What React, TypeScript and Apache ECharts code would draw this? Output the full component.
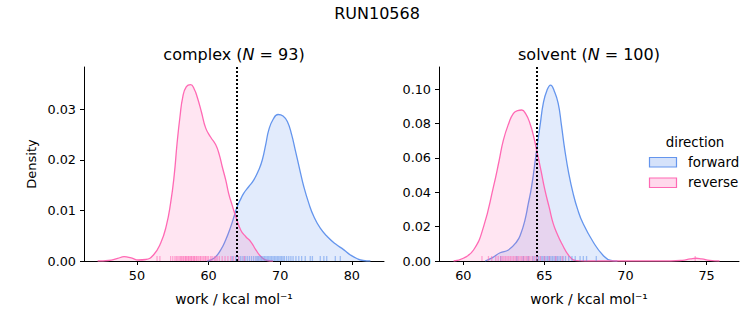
import React, { useEffect, useRef } from "react";
import * as echarts from "echarts";

// ---- data ----
const complexReverseKde: [number, number][] = [
  [44.5, 0], [46, 0.0001], [47.3, 0.0005], [48.2, 0.00085], [49.2, 0.0006], [50.2, 0.0002],
  [51.2, 0.0003], [52.3, 0.0012], [53.3, 0.0035], [54.1, 0.007], [54.7, 0.0115], [55.2, 0.017],
  [55.6, 0.0233], [56.0, 0.0285], [56.4, 0.0325], [56.9, 0.0345], [57.5, 0.0349], [58.0, 0.034],
  [58.4, 0.0325], [59.0, 0.0295], [59.6, 0.0263], [60.3, 0.0245], [61.0, 0.023], [61.5, 0.021],
  [61.9, 0.0187], [62.4, 0.016], [62.8, 0.0134], [63.3, 0.011], [63.8, 0.0088], [64.5, 0.0061],
  [65.2, 0.0048], [65.9, 0.0038], [66.6, 0.0022], [67.3, 0.0009], [68.2, 0.0001], [69, 0],
];
const complexForwardKde: [number, number][] = [
  [59.8, 0], [60.8, 0.0006], [61.7, 0.0022], [62.4, 0.0042], [63.1, 0.0068], [63.6, 0.009],
  [64.0, 0.0108], [64.5, 0.0123], [64.9, 0.0134], [65.6, 0.0147], [66.3, 0.016], [67.0, 0.018],
  [67.5, 0.02], [68.0, 0.0232], [68.4, 0.0259], [69.0, 0.028], [69.7, 0.029], [70.4, 0.0287],
  [71.0, 0.0276], [71.6, 0.025], [72.1, 0.022], [72.7, 0.0183], [73.3, 0.0147], [74.0, 0.0114],
  [74.7, 0.0088], [75.6, 0.0065], [76.6, 0.0048], [77.7, 0.0034], [78.9, 0.0022], [79.8, 0.0012],
  [80.7, 0.0005], [81.6, 0.0001], [82.6, 0],
];
const solventForwardKde: [number, number][] = [
  [61.35, 0], [61.8, 0.002], [62.27, 0.0048], [62.78, 0.0064], [63.29, 0.0112], [63.55, 0.016],
  [63.8, 0.0238], [64.0, 0.033], [64.21, 0.0432], [64.52, 0.0645], [64.75, 0.08], [64.93, 0.0917],
  [65.15, 0.099], [65.38, 0.1023], [65.6, 0.099], [65.85, 0.0917], [66.05, 0.079], [66.26, 0.0645],
  [66.5, 0.051], [66.77, 0.0393], [67.05, 0.03], [67.38, 0.0219], [68.0, 0.0112], [68.6, 0.0035],
  [69.1, 0.0003], [69.5, 0],
];
const solventReverseKde: [number, number][] = [
  [59.4, 0], [60.0, 0.0016], [60.63, 0.0064], [61.25, 0.02], [61.86, 0.0432], [62.2, 0.058],
  [62.47, 0.0703], [62.8, 0.08], [63.09, 0.0859], [63.35, 0.0875], [63.6, 0.0878], [63.85, 0.0855],
  [64.11, 0.08], [64.32, 0.073], [64.52, 0.0645], [64.78, 0.053], [65.03, 0.0413], [65.3, 0.031],
  [65.54, 0.0219], [65.8, 0.0155], [66.06, 0.0103], [66.56, 0.0025], [66.98, 0.0002], [67.5, 0],
  [72.8, 0], [73.5, 0.0004], [74.0, 0.0012], [74.34, 0.0016], [74.7, 0.0012], [75.2, 0.0004], [75.8, 0],
];

const complexReverseRug = [
  52.8, 53.2, 54.7, 55.0, 55.3, 55.5, 55.7, 55.9, 56.1, 56.2, 56.4, 56.5, 56.7, 56.8, 56.9, 57.1,
  57.2, 57.3, 57.5, 57.6, 57.7, 57.9, 58.0, 58.1, 58.3, 58.4, 58.6, 58.8, 58.9, 59.1, 59.3, 59.5,
  59.6, 59.8, 60.0, 60.3, 60.5, 60.8, 61.0, 61.2, 61.5, 61.9, 62.3, 62.7, 63.1, 63.5, 64.2, 65.0,
];
const complexForwardRug = [
  63.3, 63.8, 64.2, 64.5, 64.8, 65.1, 65.4, 65.7, 66.0, 66.3, 66.6, 66.8, 67.0, 67.2, 67.4, 67.6,
  67.8, 68.0, 68.2, 68.4, 68.6, 68.8, 69.0, 69.2, 69.4, 69.6, 69.8, 70.0, 70.2, 70.4, 70.6, 70.9,
  71.2, 71.5, 71.8, 72.2, 72.6, 73.0, 73.5, 74.2, 74.5, 75.6, 76.1, 76.5, 77.7, 78.4,
];
const solventReverseRug = [
  61.15, 61.55, 61.75, 62.0, 62.15, 62.3, 62.4, 62.5, 62.6, 62.7, 62.8, 62.9, 63.0, 63.1, 63.2,
  63.3, 63.4, 63.5, 63.6, 63.7, 63.8, 63.9, 64.0, 64.1, 64.25, 64.4, 64.55, 64.75, 65.0, 65.3,
  65.7, 66.1, 74.3,
];
const solventForwardRug = [
  62.3, 63.3, 63.7, 64.0, 64.3, 64.5, 64.65, 64.8, 64.9, 65.0, 65.1, 65.2, 65.3, 65.4, 65.5, 65.6,
  65.7, 65.8, 65.9, 66.0, 66.15, 66.3, 66.5, 66.7, 66.9, 67.2, 67.4, 67.6, 68.2,
];

const complexMeanLine = 64.0;
const solventMeanLine = 64.5;

const complexXTicks = [50, 60, 70, 80];
const complexYTicks = [0, 0.01, 0.02, 0.03];
const solventXTicks = [60, 65, 70, 75];
const solventYTicks = [0, 0.02, 0.04, 0.06, 0.08, 0.1];

const FONT = "DejaVu Sans";
const BLUE = "#6495ED";
const PINK = "#FF69B4";
const BLUE_FILL = "rgba(100,149,237,0.27)";
const PINK_FILL = "rgba(255,105,180,0.25)";

function makeXAxis(gridIndex: number, min: number, max: number, ticks: number[]) {
  return {
    type: "value", gridIndex, min, max,
    axisLine: { show: true, onZero: false, lineStyle: { color: "#000", width: 1 } },
    axisTick: { show: true, length: 4, customValues: ticks, lineStyle: { color: "#000", width: 1 } },
    axisLabel: { customValues: ticks, color: "#000", fontSize: 12.8, fontFamily: FONT, margin: 8 },
    splitLine: { show: false },
  };
}
function makeYAxis(gridIndex: number, max: number, ticks: number[]) {
  return {
    type: "value", gridIndex, min: 0, max,
    axisLine: { show: true, lineStyle: { color: "#000", width: 1 } },
    axisTick: { show: true, length: 4, customValues: ticks, lineStyle: { color: "#000", width: 1 } },
    axisLabel: {
      customValues: ticks, color: "#000", fontSize: 12.8, fontFamily: FONT, margin: 8,
      formatter: (v: number) => v.toFixed(2),
    },
    splitLine: { show: false },
  };
}
function kdeSeries(name: string, idx: number, data: [number, number][], color: string, fill: string, z: number) {
  return {
    name, type: "line", xAxisIndex: idx, yAxisIndex: idx, data,
    smooth: 0.5, showSymbol: false, symbol: "none",
    lineStyle: { color, width: 1.3 }, areaStyle: { color: fill, origin: "start" },
    itemStyle: { color }, z, silent: true,
  };
}
function rugSeries(name: string, idx: number, vals: number[], color: string) {
  return {
    name, type: "scatter", xAxisIndex: idx, yAxisIndex: idx,
    data: vals.map((v) => [v, 0]),
    symbol: "rect", symbolSize: [1.3, 5], symbolOffset: [0, -2.5], clip: false,
    itemStyle: { color, opacity: 0.55 }, z: 5, silent: true,
  };
}
function vline(idx: number, x: number) {
  return {
    type: "line", xAxisIndex: idx, yAxisIndex: idx, data: [], z: 10, silent: true,
    markLine: {
      silent: true, symbol: ["none", "none"], label: { show: false },
      lineStyle: { color: "#000", type: [2, 2], width: 2 },
      data: [{ xAxis: x }],
    },
  };
}

export default function App() {
  const ref = useRef<HTMLDivElement>(null);
  useEffect(() => {
    if (!ref.current) return;
    const chart = echarts.init(ref.current, undefined, { renderer: "svg" });
    chart.setOption({
      animation: false,
      backgroundColor: "#fff",
      grid: [
        { left: 84, top: 67, width: 300, height: 194 },
        { left: 439, top: 67, width: 300, height: 194 },
      ],
      xAxis: [makeXAxis(0, 42.6, 84.5, complexXTicks), makeXAxis(1, 58.5, 77.0, solventXTicks)],
      yAxis: [makeYAxis(0, 0.0384, complexYTicks), makeYAxis(1, 0.1128, solventYTicks)],
      series: [
        kdeSeries("forward", 0, complexForwardKde, BLUE, BLUE_FILL, 2),
        kdeSeries("reverse", 0, complexReverseKde, PINK, PINK_FILL, 3),
        rugSeries("forward rug", 0, complexForwardRug, BLUE),
        rugSeries("reverse rug", 0, complexReverseRug, PINK),
        vline(0, complexMeanLine),
        kdeSeries("forward", 1, solventForwardKde, BLUE, BLUE_FILL, 2),
        kdeSeries("reverse", 1, solventReverseKde, PINK, PINK_FILL, 3),
        rugSeries("forward rug", 1, solventForwardRug, BLUE),
        rugSeries("reverse rug", 1, solventReverseRug, PINK),
        vline(1, solventMeanLine),
      ],
      graphic: [
        { type: "text", x: 377, y: 13, style: { text: "RUN10568", fontSize: 16, fontFamily: FONT, fill: "#000", align: "center", verticalAlign: "middle" } },
        {
          type: "text", x: 234, y: 54,
          style: {
            text: "complex ({i|N} = 93)", fontSize: 16, fontFamily: FONT, fill: "#000", align: "center", verticalAlign: "middle",
            rich: { i: { fontStyle: "italic", fontSize: 16, fontFamily: FONT, fill: "#000" } },
          },
        },
        {
          type: "text", x: 589, y: 54,
          style: {
            text: "solvent ({i|N} = 100)", fontSize: 16, fontFamily: FONT, fill: "#000", align: "center", verticalAlign: "middle",
            rich: { i: { fontStyle: "italic", fontSize: 16, fontFamily: FONT, fill: "#000" } },
          },
        },
        { type: "text", x: 31, y: 164, rotation: Math.PI / 2, style: { text: "Density", fontSize: 13, fontFamily: FONT, fill: "#000", align: "center", verticalAlign: "middle" } },
        { type: "text", x: 234, y: 299, style: { text: "work / kcal mol⁻¹", fontSize: 13.8, fontFamily: FONT, fill: "#000", align: "center", verticalAlign: "middle" } },
        { type: "text", x: 589, y: 299, style: { text: "work / kcal mol⁻¹", fontSize: 13.8, fontFamily: FONT, fill: "#000", align: "center", verticalAlign: "middle" } },
        { type: "text", x: 695, y: 142, style: { text: "direction", fontSize: 13.4, fontFamily: FONT, fill: "#000", align: "center", verticalAlign: "middle" } },
        { type: "rect", shape: { x: 649.5, y: 157.5, width: 27, height: 9.5 }, style: { fill: BLUE_FILL, stroke: BLUE, lineWidth: 1.2 } },
        { type: "text", x: 688, y: 162, style: { text: "forward", fontSize: 13.4, fontFamily: FONT, fill: "#000", align: "left", verticalAlign: "middle" } },
        { type: "rect", shape: { x: 649.5, y: 178, width: 27, height: 9.5 }, style: { fill: PINK_FILL, stroke: PINK, lineWidth: 1.2 } },
        { type: "text", x: 688, y: 182.5, style: { text: "reverse", fontSize: 13.4, fontFamily: FONT, fill: "#000", align: "left", verticalAlign: "middle" } },
      ],
    });
    return () => chart.dispose();
  }, []);
  return <div ref={ref} style={{ position: "fixed", left: 0, top: 0, width: 753, height: 325 }} />;
}
